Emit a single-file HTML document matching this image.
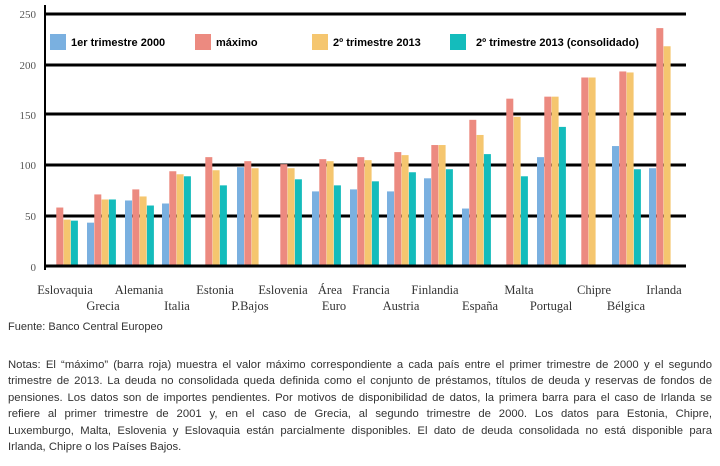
<!DOCTYPE html>
<html><head><meta charset="utf-8"><style>
html,body{margin:0;padding:0;background:#fff;width:720px;height:466px;overflow:hidden}
.notes{position:absolute;left:8px;top:357px;width:704px;font:11.3px/16.4px "Liberation Sans",sans-serif;color:#333}
.notes span{display:block;text-align:justify;text-align-last:justify;white-space:nowrap;overflow:hidden}
.notes span.l{text-align-last:left}
.fuente{position:absolute;left:8px;top:321px;font:11px "Liberation Sans",sans-serif;color:#333}
</style></head><body>
<svg width="720" height="466" style="position:absolute;left:0;top:0" font-family="Liberation Serif, serif">
<g fill="#555" font-size="11" text-anchor="end">
<text x="36" y="18">250</text><text x="36" y="69">200</text><text x="36" y="119">150</text>
<text x="36" y="169">100</text><text x="36" y="220">50</text><text x="36" y="271">0</text>
</g>
<g stroke="#000" stroke-width="3">
<line x1="45" y1="14" x2="686" y2="14"/><line x1="45" y1="65" x2="686" y2="65"/>
<line x1="45" y1="114" x2="686" y2="114"/><line x1="45" y1="165" x2="686" y2="165"/>
<line x1="45" y1="216" x2="686" y2="216"/>
<line x1="45" y1="5" x2="45" y2="270" stroke-width="2"/>
</g>
<g id="bars"></g>
<line x1="45" y1="266" x2="686" y2="266" stroke="#000" stroke-width="3"/>
<g font-size="11" font-weight="bold" font-family="Liberation Sans, sans-serif" fill="#000">
<rect x="50" y="34" width="16" height="16" fill="#7ab0e0"/><text x="71" y="46">1er trimestre 2000</text>
<rect x="195" y="34" width="16" height="16" fill="#ec8a80"/><text x="216" y="46">máximo</text>
<rect x="312" y="34" width="16" height="16" fill="#f5c66f"/><text x="333" y="46">2º trimestre 2013</text>
<rect x="450" y="34" width="16" height="16" fill="#14bcbc"/><text x="476" y="46">2º trimestre 2013 (consolidado)</text>
</g>
<g font-size="12.5" fill="#333" text-anchor="middle">
<text x="65" y="294">Eslovaquia</text><text x="139" y="294">Alemania</text><text x="215" y="294">Estonia</text>
<text x="283" y="294">Eslovenia</text><text x="330" y="294">Área</text><text x="371" y="294">Francia</text>
<text x="435" y="294">Finlandia</text><text x="519" y="294">Malta</text><text x="594" y="294">Chipre</text>
<text x="664" y="294">Irlanda</text>
<text x="103" y="310">Grecia</text><text x="177" y="310">Italia</text><text x="250" y="310">P.Bajos</text>
<text x="334" y="310">Euro</text><text x="401" y="310">Austria</text><text x="480" y="310">España</text>
<text x="551" y="310">Portugal</text><text x="626" y="310">Bélgica</text>
</g>
</svg>
<div class="fuente">Fuente: Banco Central Europeo</div>
<div class="notes"><span>Notas: El “máximo” (barra roja) muestra el valor máximo correspondiente a cada país entre el primer trimestre de 2000 y el segundo</span><span>trimestre de 2013. La deuda no consolidada queda definida como el conjunto de préstamos, títulos de deuda y reservas de fondos de</span><span>pensiones. Los datos son de importes pendientes. Por motivos de disponibilidad de datos, la primera barra para el caso de Irlanda se</span><span>refiere al primer trimestre de 2001 y, en el caso de Grecia, al segundo trimestre de 2000. Los datos para Estonia, Chipre,</span><span>Luxemburgo, Malta, Eslovenia y Eslovaquia están parcialmente disponibles. El dato de deuda consolidada no está disponible para</span><span class="l">Irlanda, Chipre o los Países Bajos.</span></div>
<script>
var C=["#7ab0e0","#ec8a80","#f5c66f","#14bcbc"];
var G=[[49,0,58,46,45],[87,43,71,66,66],[125,65,76,69,60],[162,62,94,91,89],[198,0,108,95,80],[237,98,104,97,0],
[273,0,101,97,86],[312,74,106,104,80],[350,76,108,105,84],[387,74,113,110,93],[424,87,120,120,96],[462,57,145,130,111],
[499,0,166,148,89],[537,108,168,168,138],[574,0,187,187,0],[612,119,193,192,96],[649,97,236,218,0]];
var s="";
G.forEach(function(g){for(var i=0;i<4;i++){var v=g[i+1];if(!v)continue;var h=v*1.008;
s+='<rect x="'+(g[0]+i*7.3)+'" y="'+(266-h)+'" width="7" height="'+h+'" fill="'+C[i]+'"/>';}});
document.getElementById("bars").innerHTML=s;
</script>
</body></html>
